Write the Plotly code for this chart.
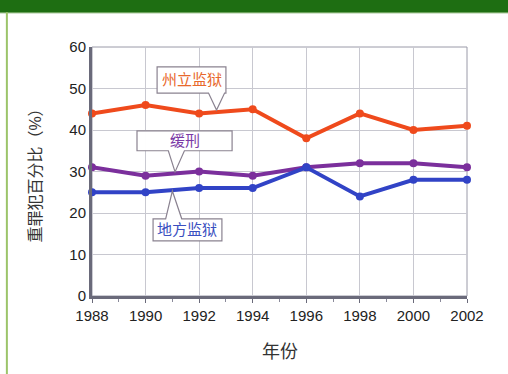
import plotly.graph_objects as go

years = [1988, 1990, 1992, 1994, 1996, 1998, 2000, 2002]
state_prison = [44, 46, 44, 45, 38, 44, 40, 41]
probation = [31, 29, 30, 29, 31, 32, 32, 31]
local_jail = [25, 25, 26, 26, 31, 24, 28, 28]
series_names = ["州立监狱", "缓刑", "地方监狱"]
y_ticks = [0, 10, 20, 30, 40, 50, 60]
x_ticks = years

colors = ["#ef4a1c", "#7b2f9c", "#3143c6"]

fig = go.Figure()
for name, vals, c in zip(series_names, [state_prison, probation, local_jail], colors):
    fig.add_trace(go.Scatter(
        x=years, y=vals, mode="lines+markers", name=name,
        line=dict(color=c, width=4), marker=dict(color=c, size=8),
        showlegend=False, cliponaxis=False, hoverinfo="skip"))

font = "Liberation Sans, Arial, Noto Sans CJK SC, sans-serif"

callouts = [
    ("州立监狱", "#e8682c", 1990.43, 1993.0, 48.9, 55.2, 1992.35, 1992.95, 1992.65, 44.8, True),
    ("缓刑", "#7b3aa6", 1989.68, 1993.23, 35.0, 39.8, 1990.85, 1991.45, 1991.1, 29.9, True),
    ("地方监狱", "#3a4fc0", 1990.28, 1992.85, 13.3, 18.6, 1990.75, 1991.35, 1991.0, 25.3, False),
]
shapes = []
annotations = []
for text, tc, x0, x1, y0, y1, px0, px1, tx, ty, down in callouts:
    if down:
        path = (f"M {x0},{y1} L {x1},{y1} L {x1},{y0} L {px1},{y0} L {tx},{ty} "
                f"L {px0},{y0} L {x0},{y0} Z")
    else:
        path = (f"M {x0},{y0} L {x1},{y0} L {x1},{y1} L {px1},{y1} L {tx},{ty} "
                f"L {px0},{y1} L {x0},{y1} Z")
    shapes.append(dict(type="path", path=path, xref="x", yref="y",
                       fillcolor="rgba(255,255,255,0.97)",
                       line=dict(color="#8a8290", width=1.2), layer="above"))
    annotations.append(dict(x=(x0 + x1) / 2, y=(y0 + y1) / 2, text=text,
                            showarrow=False, xref="x", yref="y",
                            font=dict(size=15, color=tc, family=font)))

# decorative frame: green banner on top and green line on left
shapes.append(dict(type="rect", xref="paper", yref="paper", x0=-0.3, x1=1.2,
                   y0=1.14, y1=1.3, fillcolor="#1e6e12", line=dict(width=0), layer="below"))
shapes.append(dict(type="rect", xref="paper", yref="paper", x0=-0.3, x1=1.2,
                   y0=1.136, y1=1.14, fillcolor="#4f8f3a", line=dict(width=0), layer="below"))
shapes.append(dict(type="line", xref="paper", yref="paper", x0=-0.227, x1=-0.227,
                   y0=-0.32, y1=1.14, line=dict(color="#9cc46a", width=2)))

annotations.append(dict(x=0.5, y=-0.223, xref="paper", yref="paper", text="年份",
                        showarrow=False, yanchor="middle",
                        font=dict(size=18, color="#333333", family=font)))

fig.update_layout(
    width=508, height=374,
    margin=dict(l=92, r=41, t=47, b=78),
    paper_bgcolor="white", plot_bgcolor="white",
    shapes=shapes, annotations=annotations, hovermode=False,
    xaxis=dict(range=[1988, 2002], tickvals=x_ticks, ticktext=[str(v) for v in x_ticks],
               showgrid=True, gridcolor="#c8c8d0", gridwidth=1,
               showline=True, linecolor="#6a6a7a", linewidth=3, mirror=False,
               ticks="outside", ticklen=4, tickcolor="#6a6a7a",
               minor=dict(dtick=1, ticks="outside", ticklen=3, tickcolor="#8a8a9a", showgrid=False),
               tickfont=dict(size=15, color="#222222", family=font), zeroline=False),
    yaxis=dict(range=[0, 60], tickvals=y_ticks, showgrid=True, gridcolor="#c8c8d0",
               showline=True, linecolor="#6a6a7a", linewidth=3,
               ticks="", tickfont=dict(size=15, color="#222222", family=font),
               zeroline=False,
               title=dict(text="重罪犯百分比（%）", standoff=24,
                          font=dict(size=16, color="#333333", family=font))),
)
fig.add_shape(type="rect", xref="paper", yref="paper", x0=0, x1=1, y0=0, y1=1,
              line=dict(color="#9a9aa8", width=1), layer="below")

fig.write_html("out.html", config={"displayModeBar": False, "staticPlot": True},
               post_script="document.body.style.margin='0';")
